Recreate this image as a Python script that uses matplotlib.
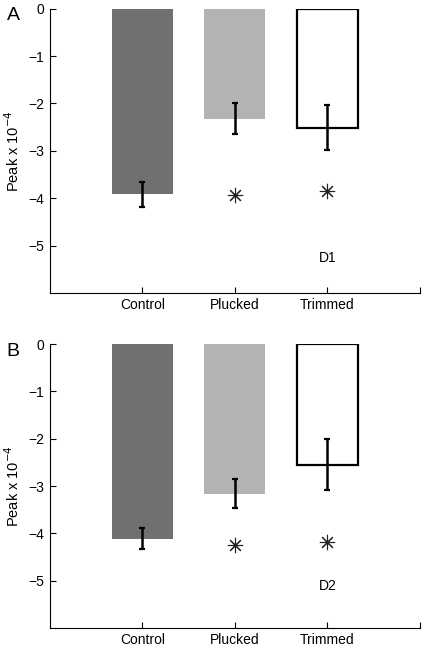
import matplotlib
matplotlib.use("Agg")
import matplotlib.pyplot as plt

plt.rcParams["font.family"] = ["Liberation Sans", "DejaVu Sans"]

groups = ["Control", "Plucked", "Trimmed"]
peak_d1 = [-3.92, -2.32, -2.51]
err_d1 = [0.27, 0.32, 0.48]
star_d1 = [-3.94, -3.85]      # plucked, trimmed
peak_d2 = [-4.11, -3.16, -2.55]
err_d2 = [0.23, 0.30, 0.54]
star_d2 = [-4.24, -4.19]
yticks = [0, -1, -2, -3, -4, -5]

fill_colors = ["#707070", "#b3b3b3", "white"]
edge_colors = ["none", "none", "black"]

fig = plt.figure(figsize=(4.22, 6.48), dpi=100)
ax_a = fig.add_axes([0.1185, 0.5478, 0.8765, 0.4388])
ax_b = fig.add_axes([0.1185, 0.0309, 0.8765, 0.4382])


def draw_panel(ax, peaks, errs, stars, tag, tag_y, letter):
    xs = [1, 2, 3]
    ax.bar(xs, peaks, width=0.66, color=fill_colors, edgecolor=edge_colors,
           linewidth=1.6, zorder=1)
    ax.errorbar(xs, peaks, yerr=errs, fmt="none", ecolor="black",
                elinewidth=1.8, capsize=2.5, capthick=1.6, zorder=3)
    ax.plot([2, 3], stars, linestyle="none", marker=(8, 2, 0),
            markersize=11, markeredgewidth=0.8, color="#222222", zorder=3)
    ax.text(3, tag_y, tag, ha="center", va="center", fontsize=10)

    ax.set_xlim(0, 4)
    ax.set_ylim(-6, 0)
    ax.set_xticks([1, 2, 3, 4])
    ax.set_xticklabels(groups + [""])
    ax.set_yticks(yticks)
    ax.set_yticklabels(["0"] + ["\u2212%d" % (-v) for v in yticks[1:]])
    ax.tick_params(direction="in", length=4, width=0.8, labelsize=10,
                   pad=4)
    ax.tick_params(axis="x", pad=3.5)
    ax.spines["top"].set_visible(False)
    ax.spines["right"].set_visible(False)
    ax.spines["left"].set_linewidth(0.8)
    ax.spines["bottom"].set_linewidth(0.8)
    ax.set_ylabel("Peak x 10$^{-4}$", fontsize=10.5, labelpad=5)
    ax.text(-0.1, 0.975, letter, transform=ax.transAxes, fontsize=14,
            ha="center", va="center")


draw_panel(ax_a, peak_d1, err_d1, star_d1, "D1", -5.26, "A")
draw_panel(ax_b, peak_d2, err_d2, star_d2, "D2", -5.12, "B")

fig.savefig("out.png", dpi=100)
